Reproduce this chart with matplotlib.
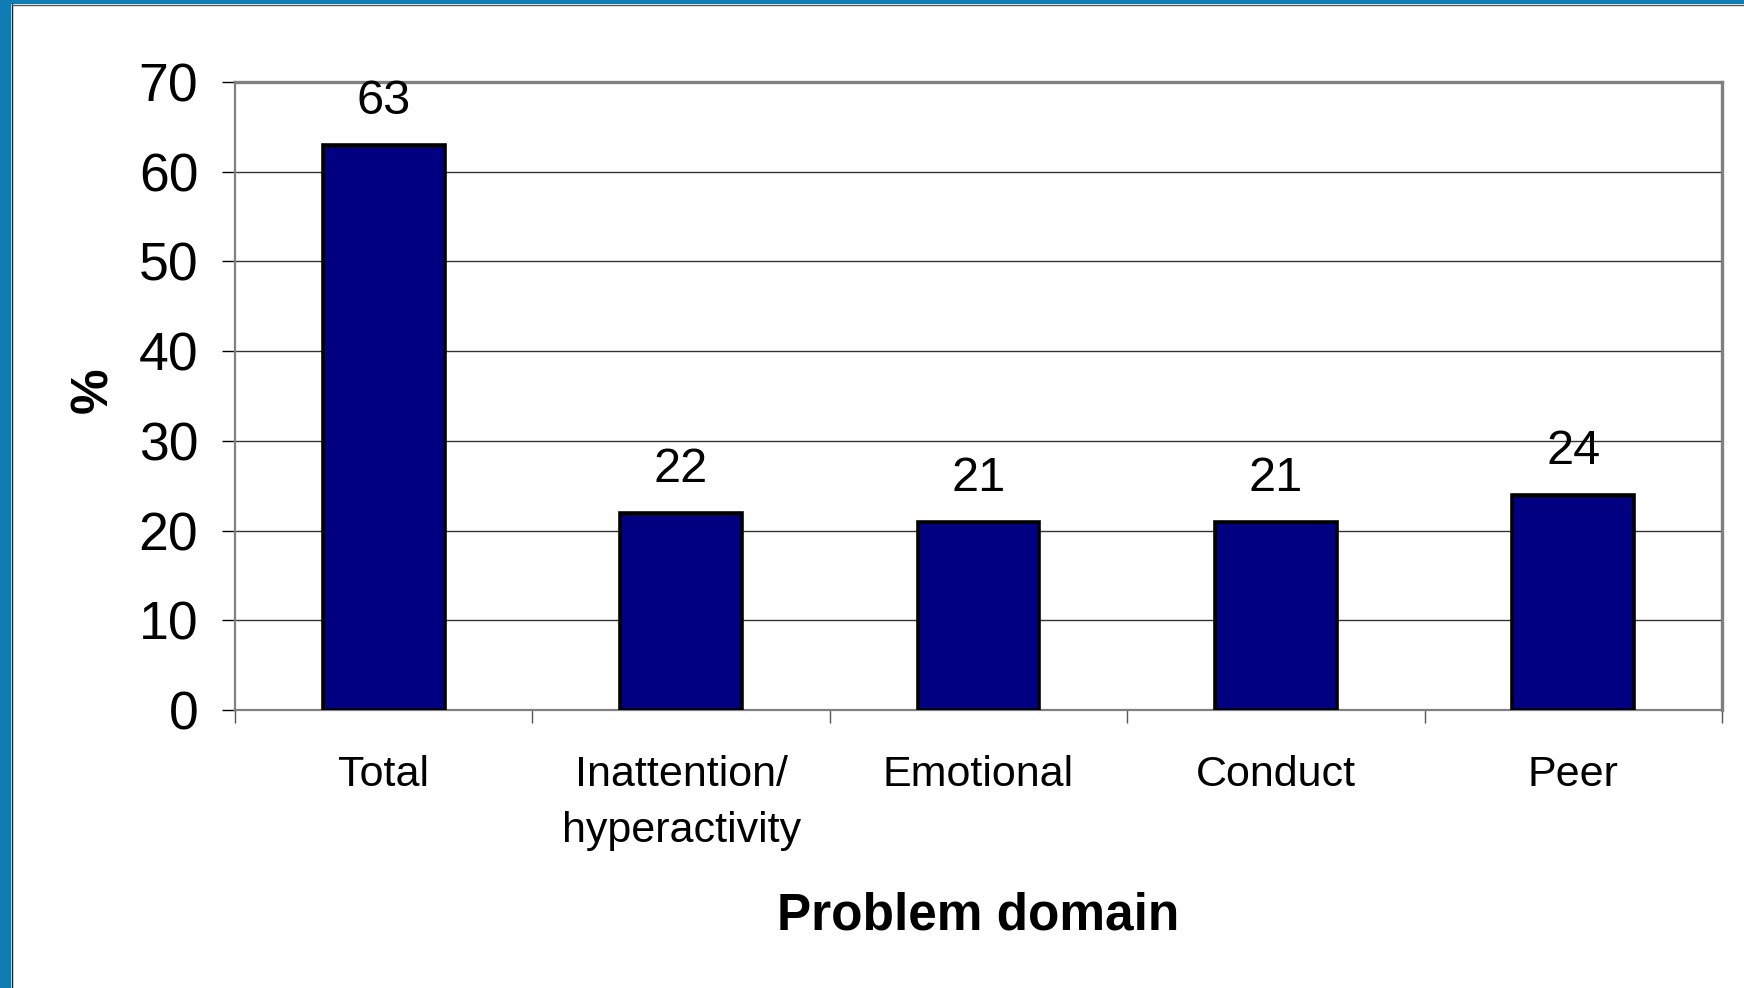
import numpy as np
import matplotlib.pyplot as plt
from matplotlib.patches import Rectangle

plt.rcParams['font.family'] = ['Liberation Sans', 'DejaVu Sans']

# Data
domains = ['Total', 'Inattention/\nhyperactivity', 'Emotional', 'Conduct', 'Peer']
percent = [63, 22, 21, 21, 24]
y_ticks = [0, 10, 20, 30, 40, 50, 60, 70]

W, H = 1744, 988
fig = plt.figure(figsize=(W / 100, H / 100), dpi=100)
fig.patch.set_facecolor('white')

# slide frame: blue strip on left and top edges
fig.patches.append(Rectangle((0, 0), 11 / W, 1, transform=fig.transFigure,
                             facecolor='#0f7db4', edgecolor='none', zorder=0))
fig.patches.append(Rectangle((0, 1 - 4 / H), 1, 4 / H, transform=fig.transFigure,
                             facecolor='#0f7db4', edgecolor='none', zorder=0))
fig.add_artist(plt.Line2D([11.5 / W, 11.5 / W], [0, 1 - 4 / H], color='#1a1a1a', lw=1))
fig.add_artist(plt.Line2D([11.5 / W, 1], [1 - 4.8 / H, 1 - 4.8 / H], color='#555555', lw=1))

ax = fig.add_axes([235 / W, 1 - 710 / H, (1722 - 235) / W, (710 - 82) / H])
x = np.arange(len(domains))
bars = ax.bar(x, percent, width=0.41, color='#000080', edgecolor='black',
              linewidth=2.6, zorder=3)

for b, v in zip(bars, percent):
    ax.annotate(str(v), (b.get_x() + b.get_width() / 2, v), xytext=(0, 15),
                textcoords='offset points', ha='center', va='bottom',
                fontsize=35, zorder=4)

ax.set_xlim(-0.5, len(domains) - 0.5)
ax.set_ylim(0, 70)
ax.set_yticks(y_ticks)
ax.yaxis.grid(True, color='#333333', lw=1.0, zorder=1)
ax.set_axisbelow(True)

ax.set_xticks(x)
ax.set_xticklabels(domains, fontsize=31, linespacing=1.5)
ax.set_xticks(np.arange(len(domains) + 1) - 0.5, minor=True)
ax.tick_params(axis='x', which='major', length=0, pad=32.5)
ax.tick_params(axis='x', which='minor', length=9.4, width=1, color='#555555',
               direction='out')
ax.tick_params(axis='y', labelsize=38.5, length=9.4, width=1, color='black',
               direction='out', pad=17)

for side, lw in [('left', 1.6), ('bottom', 1.6), ('top', 2.4), ('right', 2.4)]:
    ax.spines[side].set_color('#808080')
    ax.spines[side].set_linewidth(lw)

ax.set_xlabel('Problem domain', fontsize=37, fontweight='bold', va='baseline')
ax.xaxis.set_label_coords(0.5, -0.350)
ax.set_ylabel('%', fontsize=37, fontweight='bold', va='center')
ax.yaxis.set_label_coords(-0.095, 0.51)

fig.savefig('out.png', dpi=100, facecolor='white')
